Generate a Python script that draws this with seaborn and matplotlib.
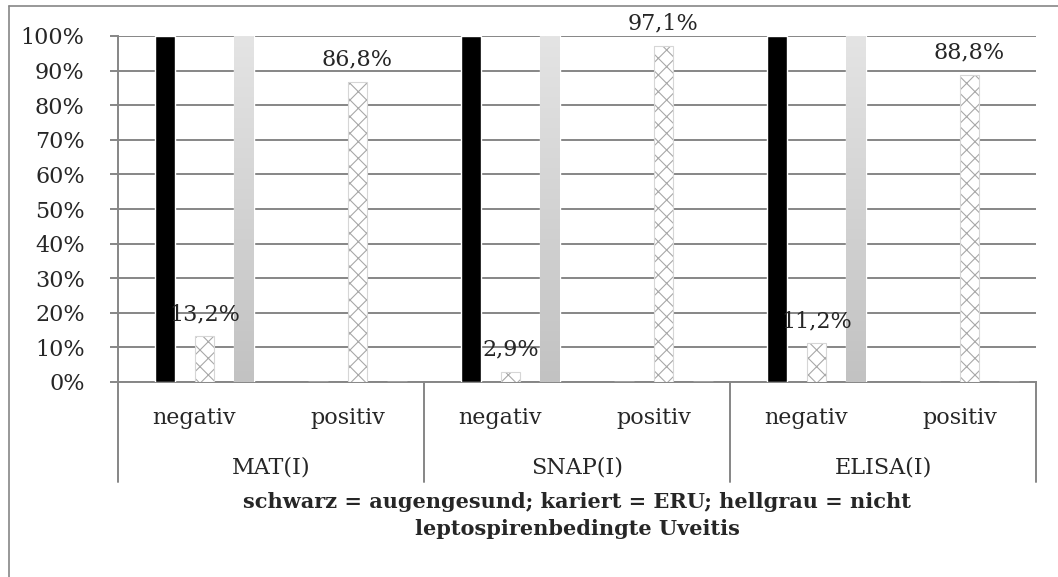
import matplotlib
matplotlib.use("Agg")
import matplotlib.pyplot as plt
import numpy as np
import pandas as pd
import seaborn as sns
from matplotlib.colors import LinearSegmentedColormap
from matplotlib.lines import Line2D
from matplotlib.patches import Rectangle

sns.set_theme(style="white")
plt.rcParams["font.family"] = ["DejaVu Serif"]
plt.rcParams["hatch.linewidth"] = 0.8

# =========================
# Data
# =========================
tests = ["MAT(I)", "SNAP(I)", "ELISA(I)"]
results = ["negativ", "positiv"]
series = ["augengesund", "ERU", "nicht leptospirenbedingte Uveitis"]

augengesund = [100, 0, 100, 0, 100, 0]
eru = [13.2, 86.8, 2.9, 97.1, 11.2, 88.8]
nicht_lepto = [100, 0, 100, 0, 100, 0]

categories = [f"{t} {r}" for t in tests for r in results]
df = pd.DataFrame({
    "kategorie": categories * 3,
    "serie": np.repeat(series, len(categories)),
    "wert": augengesund + eru + nicht_lepto,
})

GRID = "#868686"

fig = plt.figure(figsize=(10.58, 5.77), dpi=100)
ax = fig.add_axes([118 / 1058, 1 - 382 / 577, 918 / 1058, 346 / 577])

sns.barplot(data=df, x="kategorie", y="wert", hue="serie", order=categories,
            hue_order=series, palette=["black", "white", "#d0d0d0"],
            width=0.78, gap=0.5, saturation=1, legend=False, ax=ax, zorder=3)

# checkered bars: grey lattice on white with a faint outline
for bar in ax.containers[1]:
    bar.set_facecolor("white")
    bar.set_hatch("xx")
    bar.set_edgecolor("#a8a8a8")
    bar.set_linewidth(0)
    if bar.get_height() > 0:
        ax.add_patch(Rectangle(bar.get_xy(), bar.get_width(), bar.get_height(),
                               fill=False, edgecolor="#d6d6d6", linewidth=0.8, zorder=3.2))

# light grey bars with a vertical gradient (light at top, darker at bottom)
cmap = LinearSegmentedColormap.from_list("hg", ["#e4e4e4", "#c2c2c2"])
grad = np.linspace(0, 1, 256).reshape(-1, 1)
for bar in ax.containers[2]:
    if bar.get_height() <= 0:
        continue
    x0, y0 = bar.get_x(), bar.get_y()
    im = ax.imshow(grad, extent=[x0, x0 + bar.get_width(), y0, y0 + bar.get_height()],
                   aspect="auto", cmap=cmap, zorder=3.5, origin="upper")
    im.set_clip_path(bar)

ax.set_xlim(-0.565, 5.435)
ax.set_ylim(0, 100)

# data labels only for ERU
labels = [f"{v:.1f}%".replace(".", ",") for v in eru]
ax.bar_label(ax.containers[1], labels=labels, padding=8, fontsize=16, zorder=5)

ax.set_yticks(range(0, 101, 10))
ax.set_yticklabels([f"{v}%" for v in range(0, 101, 10)], fontsize=16)
ax.set_xticks([])
ax.set_xlabel("")
ax.set_ylabel("")
ax.yaxis.grid(True, color=GRID, linewidth=1.4, zorder=0)
ax.tick_params(axis="y", length=6, width=1.4, color=GRID, pad=18, left=True)
for side in ["top", "right"]:
    ax.spines[side].set_visible(False)
for side in ["left", "bottom"]:
    ax.spines[side].set_color(GRID)
    ax.spines[side].set_linewidth(1.4)
ax.set_facecolor("white")

# multi-level category axis
n = len(categories)
for i, cat in enumerate(categories):
    ax.text((i + 0.5) / n, -0.104, results[i % 2], transform=ax.transAxes,
            ha="center", va="center", fontsize=16)
for j, t in enumerate(tests):
    ax.text((j + 0.5) / len(tests), -0.2457, t, transform=ax.transAxes,
            ha="center", va="center", fontsize=16)
for j in range(len(tests) + 1):
    ax.add_line(Line2D([j / len(tests)] * 2, [0, -0.289], transform=ax.transAxes,
                       color=GRID, linewidth=1.4, clip_on=False))

fig.text(577 / 1058, 1 - 502 / 577, "schwarz = augengesund; kariert = ERU; hellgrau = nicht",
         ha="center", va="center", fontsize=15, fontweight="bold")
fig.text(577 / 1058, 1 - 529 / 577, "leptospirenbedingte Uveitis",
         ha="center", va="center", fontsize=15, fontweight="bold")

# outer chart border (left and top visible)
fig.add_artist(Line2D([9 / 1058, 9 / 1058], [0, 1 - 6 / 577], color=GRID, linewidth=1.2))
fig.add_artist(Line2D([9 / 1058, 1], [1 - 6 / 577, 1 - 6 / 577], color=GRID, linewidth=1.2))

fig.savefig("out.png", dpi=100, facecolor="white")
